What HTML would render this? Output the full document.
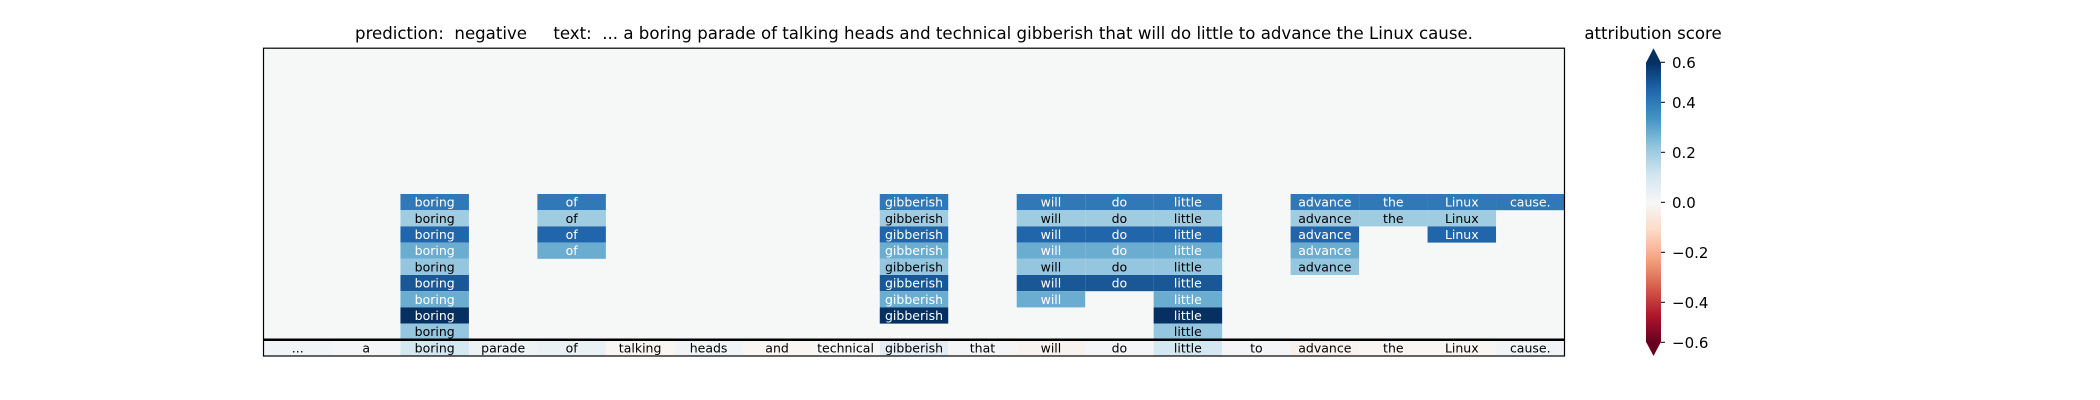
<!DOCTYPE html>
<html><head><meta charset="utf-8">
<style>
html,body{margin:0;padding:0;background:#fff;}
svg{display:block;font-family:"DejaVu Sans","Liberation Sans",sans-serif;}
</style></head>
<body>
<svg id="chart" width="2100" height="400" viewBox="0 0 2100 400" xmlns="http://www.w3.org/2000/svg">
<text x="914" y="39" font-size="16.6" text-anchor="middle" xml:space="preserve" style="white-space:pre">prediction:  negative     text:  ... a boring parade of talking heads and technical gibberish that will do little to advance the Linux cause.</text>
<text x="1653" y="39" font-size="16.6" text-anchor="middle">attribution score</text>
<g id="cells"></g>
<g id="cbar"></g>
</svg>
<script>
const tokens = ["...","a","boring","parade","of","talking","heads","and","technical","gibberish","that","will","do","little","to","advance","the","Linux","cause."];
const bottomValues = [0.02,0.01,0.1,0.03,0.04,-0.01,0.02,-0.01,0.0,0.06,0.01,-0.02,0.01,0.1,0.01,-0.02,-0.01,-0.01,0.02];
const rowValues = [0.40,0.20,0.45,0.28,0.22,0.48,0.28,0.60,0.22];
const stackHeights = [0,0,9,0,4,0,0,0,0,8,0,7,6,9,0,5,2,3,1];
const cbarTicks = [0.56,0.4,0.2,0,-0.2,-0.4,-0.56];
const cbarTickLabels = ["0.6","0.4","0.2","0.0","\u22120.2","\u22120.4","\u22120.6"];

const VMAX = 0.56;
const stops = ["#67001f","#b2182b","#d6604d","#f4a582","#fddbc7","#f7f7f7","#d1e5f0","#92c5de","#4393c3","#2166ac","#053061"];
function hex(c){return [1,3,5].map(i=>parseInt(c.substr(i,2),16));}
function cmap(v){
  let t=(v+VMAX)/(2*VMAX); t=Math.max(0,Math.min(1,t));
  const p=t*10, i=Math.min(9,Math.floor(p)), f=p-i;
  const a=hex(stops[i]), b=hex(stops[i+1]);
  return "rgb("+a.map((x,k)=>Math.round(x+(b[k]-x)*f)).join(",")+")";
}
const NS="http://www.w3.org/2000/svg";
function mk(tag,attrs,parent){const e=document.createElementNS(NS,tag);for(const k in attrs)e.setAttribute(k,attrs[k]);parent.appendChild(e);return e;}

const X0=263.5, X1=1564.5, Y0=48.2, Y1=356, NR=19;
const cw=(X1-X0)/tokens.length, rh=(Y1-Y0)/NR;
const xPos=i=>X0+i*cw, yPos=r=>Y0+r*rh;
const cells=document.getElementById('cells');

const bg=mk('rect',{x:X0,y:Y0,width:X1-X0,height:Y1-Y0,fill:cmap(0.003)},cells);



tokens.forEach((tok,c)=>{
  const h=stackHeights[c];
  for(let k=0;k<h;k++){
    const r=9+k, v=rowValues[k];
    const rc=mk('rect',{x:xPos(c),y:yPos(r),width:cw,height:rh,fill:cmap(v)},cells);
    
    
    const t=mk('text',{x:xPos(c)+cw/2,y:yPos(r)+rh/2+4.5,'font-size':12.5,'text-anchor':'middle',fill:Math.abs(v)>0.25?'#fff':'#000'},cells);
    t.textContent=tok;
    
    
  }
  const v=bottomValues[c];
  const br=mk('rect',{x:xPos(c),y:yPos(18),width:cw,height:rh,fill:cmap(v)},cells);
  
  
  const bt=mk('text',{x:xPos(c)+cw/2,y:yPos(18)+rh/2+4.5,'font-size':12.5,'text-anchor':'middle',fill:'#000'},cells);
  bt.textContent=tok;
  
  
});
const sep=mk('line',{x1:X0,x2:X1,y1:yPos(18),y2:yPos(18),stroke:'#000','stroke-width':2.5},cells);


const fr=mk('rect',{x:X0,y:Y0,width:X1-X0,height:Y1-Y0,fill:'none',stroke:'#000','stroke-width':1.2},cells);



const cb=document.getElementById('cbar');
const CX0=1646, CX1=1661, CY0=62.3, CY1=342.3;
const cy=v=>CY0+(VMAX-v)/(2*VMAX)*(CY1-CY0);
const defs=mk('defs',{},cb);
const grad=mk('linearGradient',{id:'g',x1:0,y1:0,x2:0,y2:1},defs);
for(let i=0;i<=20;i++){const v=VMAX-i*(2*VMAX)/20;mk('stop',{offset:i/20,'stop-color':cmap(v)},grad);}
const body=mk('rect',{x:CX0,y:CY0,width:CX1-CX0,height:CY1-CY0,fill:'url(#g)'},cb);


const tu=mk('polygon',{points:`${CX0},${CY0+0.5} ${CX1},${CY0+0.5} ${(CX0+CX1)/2},48.3`,fill:cmap(0.6)},cb);


const td=mk('polygon',{points:`${CX0},${CY1-0.5} ${CX1},${CY1-0.5} ${(CX0+CX1)/2},356`,fill:cmap(-0.6)},cb);


cbarTicks.forEach((v,i)=>{
  const y=cy(v);
  const l=mk('line',{x1:CX1,x2:CX1+4,y1:y,y2:y,stroke:'#000','stroke-width':1},cb);
  
  
  const t=mk('text',{x:CX1+11,y:y+5.5,'font-size':15,fill:'#000'},cb);
  t.textContent=cbarTickLabels[i];
  
  
});
</script>
</body></html>
